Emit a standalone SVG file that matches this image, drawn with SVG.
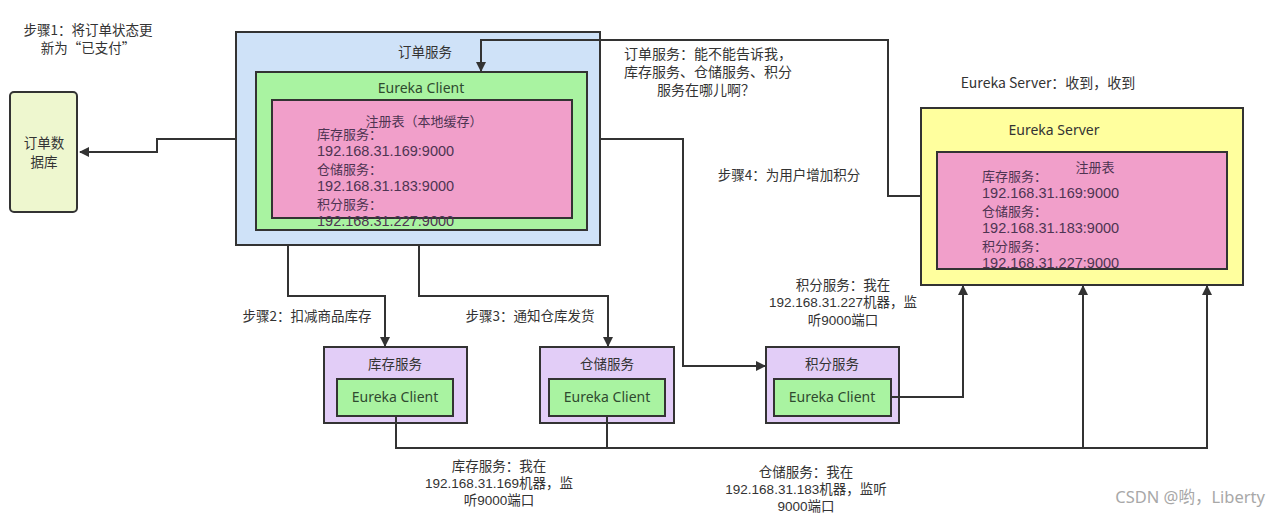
<svg xmlns="http://www.w3.org/2000/svg" width="1280" height="516" viewBox="0 0 1280 516">
<defs>
<marker id="arr" viewBox="0 0 10 10" refX="9" refY="5" markerWidth="10" markerHeight="10" markerUnits="userSpaceOnUse" orient="auto">
<path d="M0,0 L10,5 L0,10 z" fill="#333"/>
</marker>
<style>
text{font-family:"Noto Sans CJK SC","Noto Sans",sans-serif;font-size:13.5px;fill:#333}
.c{text-anchor:middle}
.lbl{font-family:"Liberation Sans","Noto Sans CJK SC",sans-serif;font-size:13.5px}
.box{stroke:#333;stroke-width:2}
.blue{fill:#cfe2f8}
.green{fill:#a9f3a1}
.pink{fill:#f19fca}
.yellow{fill:#ffff9e}
.purple{fill:#e2cdf7}
.db{fill:#eef7cf}
.ec{fill:#2f4a2f;font-family:"Noto Sans","Noto Sans CJK SC",sans-serif;font-size:14px}
.reg{fill:#4e3452;font-size:13px}
.ip{fill:#4e3452;font-family:"Liberation Sans","Noto Sans",sans-serif;font-size:14.5px}
.conn path{fill:none;stroke:#333;stroke-width:2}
.wm{fill:#a8a8a8;font-family:"Noto Sans","Noto Sans CJK SC",sans-serif;font-size:16.5px}
</style>
</defs>
<rect width="1280" height="516" fill="#fff"/>

<g id="step1-label">
<text x="88" y="35" class="c">步骤1：将订单状态更</text>
<text x="88" y="53" class="c">新为“已支付”</text>
</g>

<g id="order-db">
<rect class="box db" x="10" y="92" width="67" height="120" rx="4"/>
<text x="44" y="148" class="c">订单数</text>
<text x="44" y="167" class="c">据库</text>
</g>

<g id="order-service">
<rect class="box blue" x="236" y="32" width="364" height="213"/>
<text x="425" y="57" class="c">订单服务</text>
<rect class="box green" x="256" y="72" width="331" height="158"/>
<text x="421" y="93" class="c ec">Eureka Client</text>
<rect class="box pink" x="272" y="100" width="300" height="118"/>
<text x="424" y="126" class="c reg">注册表（本地缓存）</text>
<text x="317" y="139" class="reg">库存服务：</text>
<text x="317" y="156" class="ip">192.168.31.169:9000</text>
<text x="317" y="174" class="reg">仓储服务：</text>
<text x="317" y="191" class="ip">192.168.31.183:9000</text>
<text x="317" y="209" class="reg">积分服务：</text>
<text x="317" y="226" class="ip">192.168.31.227:9000</text>
</g>

<g id="ask-label">
<text x="708" y="59" class="c" style="font-size:14px">订单服务：能不能告诉我，</text>
<text x="708" y="77" class="c" style="font-size:14px">库存服务、仓储服务、积分</text>
<text x="706" y="95" class="c" style="font-size:14px">服务在哪儿啊？</text>
</g>

<g id="server-reply-label">
<text x="1048" y="88" class="c" style="font-size:14px">Eureka Server：收到，收到</text>
</g>

<g id="eureka-server">
<rect class="box yellow" x="921" y="108" width="322" height="177"/>
<text x="1054" y="135" class="c ec" style="fill:#333">Eureka Server</text>
<rect class="box pink" x="937" y="152" width="290" height="117"/>
<text x="1095" y="172" class="c reg">注册表</text>
<text x="982" y="181" class="reg">库存服务：</text>
<text x="982" y="198" class="ip">192.168.31.169:9000</text>
<text x="982" y="216" class="reg">仓储服务：</text>
<text x="982" y="233" class="ip">192.168.31.183:9000</text>
<text x="982" y="251" class="reg">积分服务：</text>
<text x="982" y="268" class="ip">192.168.31.227:9000</text>
</g>

<g id="step4-label">
<text x="789" y="180" class="c">步骤4：为用户增加积分</text>
</g>
<g id="step2-label">
<text x="307" y="321" class="c">步骤2：扣减商品库存</text>
</g>
<g id="step3-label">
<text x="530" y="321" class="c">步骤3：通知仓库发货</text>
</g>

<g id="inventory-service">
<rect class="box purple" x="324" y="347" width="143" height="76"/>
<text x="395" y="369" class="c">库存服务</text>
<rect class="box green" x="337" y="379" width="116" height="37"/>
<text x="395" y="402" class="c ec">Eureka Client</text>
</g>

<g id="warehouse-service">
<rect class="box purple" x="540" y="347" width="134" height="76"/>
<text x="607" y="369" class="c">仓储服务</text>
<rect class="box green" x="549" y="379" width="116" height="37"/>
<text x="607" y="402" class="c ec">Eureka Client</text>
</g>

<g id="points-service">
<rect class="box purple" x="766" y="347" width="133" height="76"/>
<text x="832" y="369" class="c">积分服务</text>
<rect class="box green" x="774" y="379" width="117" height="37"/>
<text x="832" y="402" class="c ec">Eureka Client</text>
</g>

<g id="points-register-label">
<text x="843" y="290" class="c lbl">积分服务：我在</text>
<text x="843" y="307" class="c lbl">192.168.31.227机器，监</text>
<text x="843" y="325" class="c lbl">听9000端口</text>
</g>
<g id="inventory-register-label">
<text x="499" y="471" class="c lbl">库存服务：我在</text>
<text x="499" y="488" class="c lbl">192.168.31.169机器，监</text>
<text x="499" y="505" class="c lbl">听9000端口</text>
</g>
<g id="warehouse-register-label">
<text x="806" y="477" class="c lbl">仓储服务：我在</text>
<text x="806" y="494" class="c lbl">192.168.31.183机器，监听</text>
<text x="806" y="511" class="c lbl">9000端口</text>
</g>

<g class="conn" id="connectors">
<path d="M236,139 H157 V152 H80" marker-end="url(#arr)"/>
<path d="M921,196 H888 V40 H481 V71" marker-end="url(#arr)"/>
<path d="M600,139 H683 V366 H765" marker-end="url(#arr)"/>
<path d="M288,245 V296 H385 V346" marker-end="url(#arr)"/>
<path d="M419,245 V296 H608 V346" marker-end="url(#arr)"/>
<path d="M891,397 H963 V286" marker-end="url(#arr)"/>
<path d="M396,416 V448 H1207 V286" marker-end="url(#arr)"/>
<path d="M607,416 V448"/>
<path d="M1083,448 V286" marker-end="url(#arr)"/>
</g>

<text x="1265" y="503" class="wm" text-anchor="end">CSDN @哟，Liberty</text>
</svg>
